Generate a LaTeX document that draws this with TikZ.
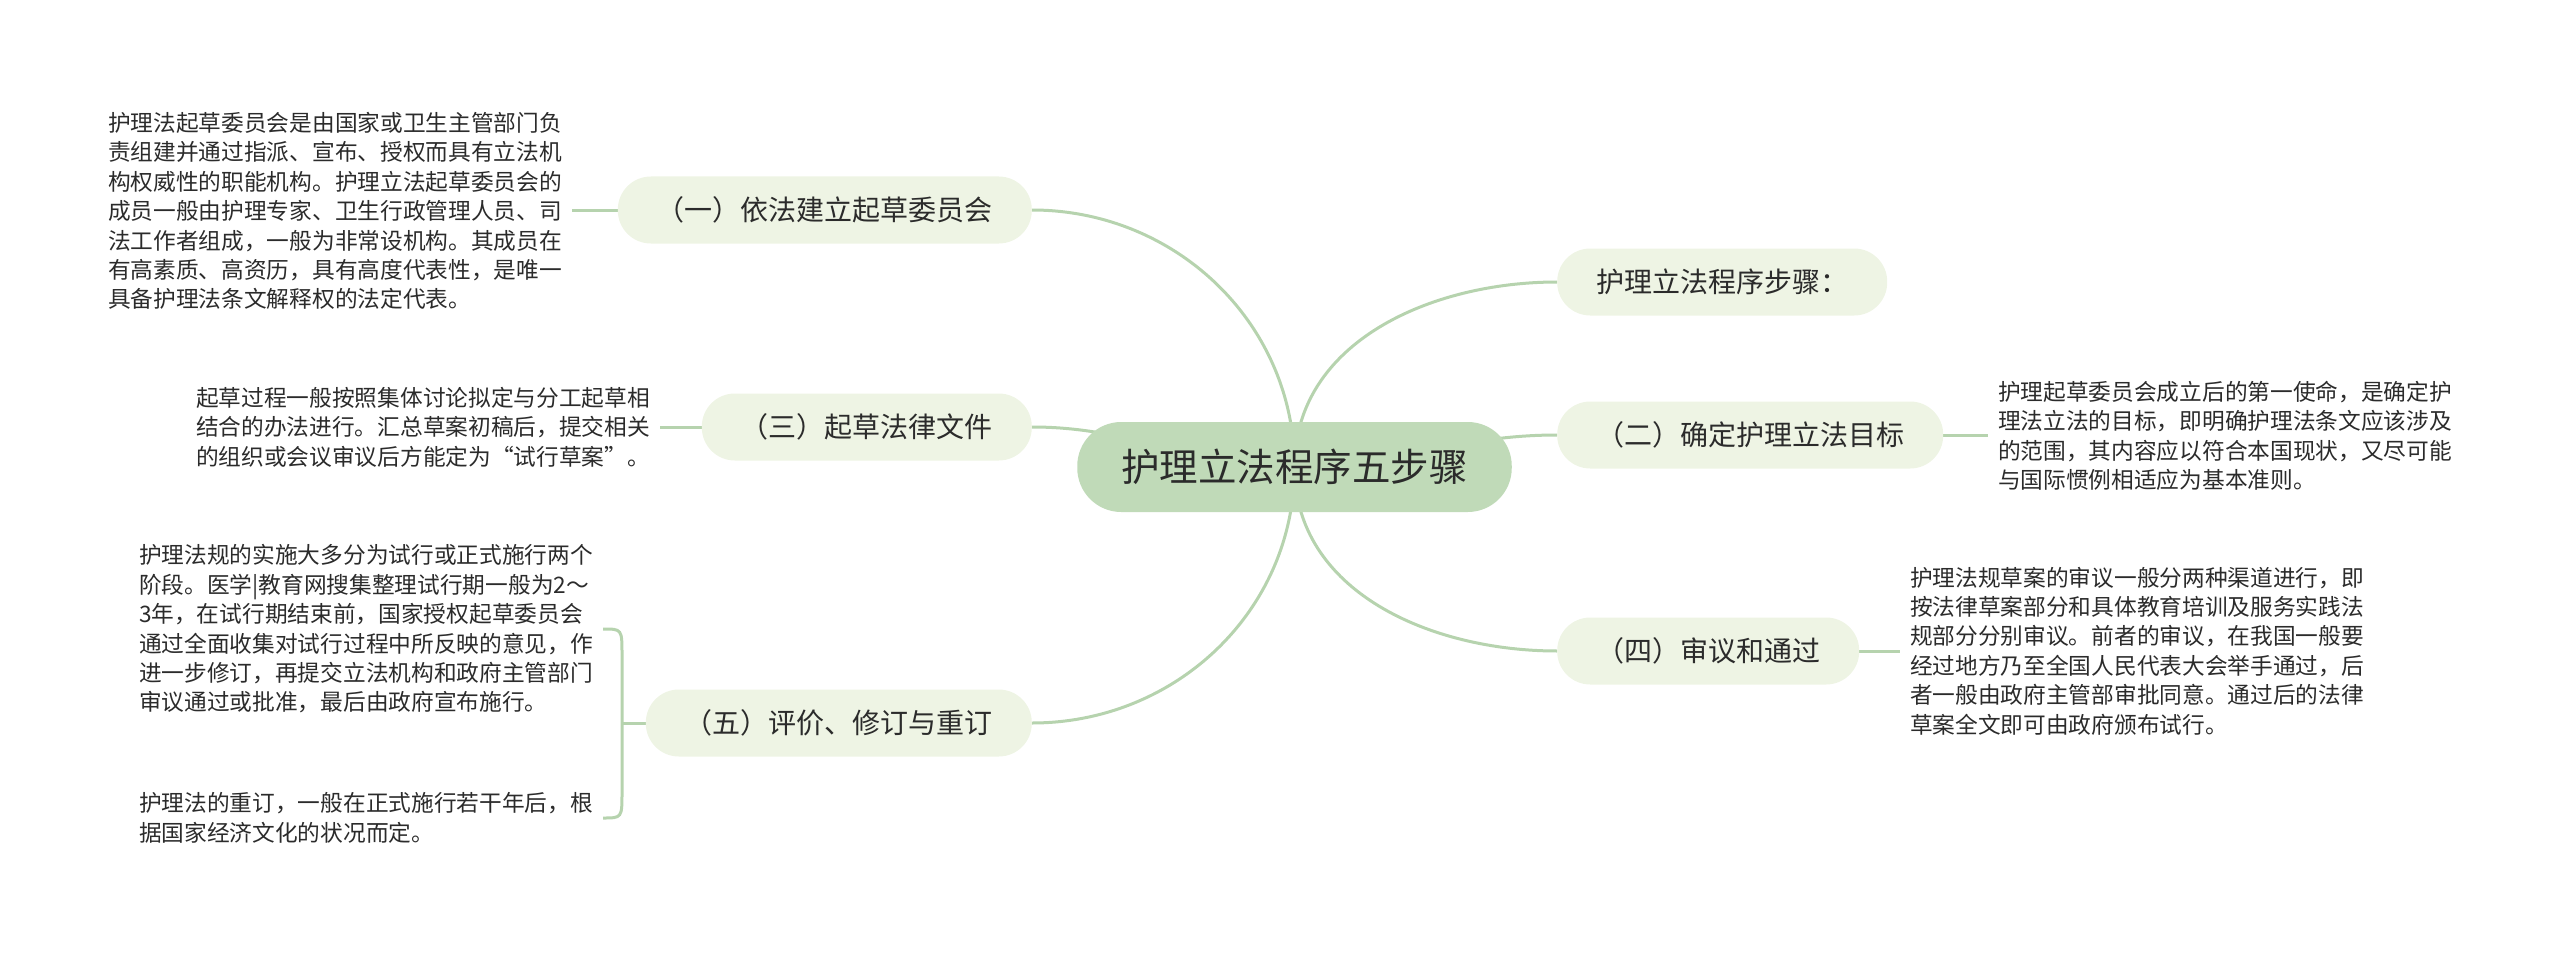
\documentclass[tikz,border=0pt]{standalone}
\usepackage{fontspec}
\setmainfont{Noto Sans CJK SC}
\usetikzlibrary{backgrounds}
\definecolor{rootfill}{HTML}{C0DAB8}
\definecolor{branchfill}{HTML}{EEF4E4}
\definecolor{linkc}{HTML}{B6D3AE}
\definecolor{txt}{HTML}{2B2B2B}
\begin{document}
\begin{tikzpicture}[x=1pt,y=-1pt,
  rootnode/.style={fill=rootfill, rounded corners=44pt, minimum height=90pt, inner xsep=44pt, inner ysep=0pt, font=\fontsize{38.5}{40}\selectfont, text=txt},
  branchnode/.style={fill=branchfill, rounded corners=33pt, minimum height=67pt, inner xsep=39pt, inner ysep=0pt, font=\fontsize{28}{30}\selectfont, text=txt},
  detail/.style={align=left, inner sep=0pt, outer xsep=10pt, font=\fontsize{22.7}{29.4}\selectfont, text=txt},
  link/.style={draw=linkc, line width=3pt}]
\useasboundingbox (0,0) rectangle (2560,955);

\node[rootnode] (root) at (1294.5,467) {护理立法程序五步骤};

\node[branchnode, anchor=east] (b1) at (1032,210) {（一）依法建立起草委员会};
\node[branchnode, anchor=east] (b3) at (1032,427) {（三）起草法律文件};
\node[branchnode, anchor=east] (b5) at (1032,723) {（五）评价、修订与重订};
\node[branchnode, anchor=west] (r0) at (1557,282) {护理立法程序步骤：};
\node[branchnode, anchor=west] (b2) at (1557,435) {（二）确定护理立法目标};
\node[branchnode, anchor=west] (b4) at (1557,651) {（四）审议和通过};

\node[detail, anchor=west] (d1) at (98,211) {护理法起草委员会是由国家或卫生主管部门负\\责组建并通过指派、宣布、授权而具有立法机\\构权威性的职能机构。护理立法起草委员会的\\成员一般由护理专家、卫生行政管理人员、司\\法工作者组成，一般为非常设机构。其成员在\\有高素质、高资历，具有高度代表性，是唯一\\具备护理法条文解释权的法定代表。};
\node[detail, anchor=west] (d3) at (186,427) {起草过程一般按照集体讨论拟定与分工起草相\\结合的办法进行。汇总草案初稿后，提交相关\\的组织或会议审议后方能定为“试行草案”。};
\node[detail, anchor=west] (d5a) at (129,629) {护理法规的实施大多分为试行或正式施行两个\\阶段。医学|教育网搜集整理试行期一般为2～\\3年，在试行期结束前，国家授权起草委员会\\通过全面收集对试行过程中所反映的意见，作\\进一步修订，再提交立法机构和政府主管部门\\审议通过或批准，最后由政府宣布施行。};
\node[detail, anchor=west] (d5b) at (129,818) {护理法的重订，一般在正式施行若干年后，根\\据国家经济文化的状况而定。};
\node[detail, anchor=west] (d2) at (1988,436) {护理起草委员会成立后的第一使命，是确定护\\理法立法的目标，即明确护理法条文应该涉及\\的范围，其内容应以符合本国现状，又尽可能\\与国际惯例相适应为基本准则。};
\node[detail, anchor=west] (d4) at (1900,651) {护理法规草案的审议一般分两种渠道进行，即\\按法律草案部分和具体教育培训及服务实践法\\规部分分别审议。前者的审议，在我国一般要\\经过地方乃至全国人民代表大会举手通过，后\\者一般由政府主管部审批同意。通过后的法律\\草案全文即可由政府颁布试行。};

\coordinate (bk) at (622,723);

\begin{scope}[on background layer]
\draw[link] (b1.east) to[out=0,in=90] (root.center);
\draw[link] (b3.east) to[out=0,in=180] (root.center);
\draw[link] (b5.east) to[out=0,in=-90] (root.center);
\draw[link] (root.center) to[out=90,in=180] (r0.west);
\draw[link] (root.center) to[out=0,in=180] (b2.west);
\draw[link] (root.center) to[out=-90,in=180] (b4.west);

\draw[link] (b1.west) -- (b1.west -| d1.east);
\draw[link] (b3.west) -- (b3.west -| d3.east);
\draw[link] (b2.east) -- (b2.east -| d2.west);
\draw[link] (b4.east) -- (b4.east -| d4.west);
\draw[link] (d5a.east) .. controls (622,629) .. (622,655) -- (622,792) .. controls (622,818) .. (d5b.east);
\draw[link] (bk) -- (b5.west);
\end{scope}
\end{tikzpicture}
\end{document}
